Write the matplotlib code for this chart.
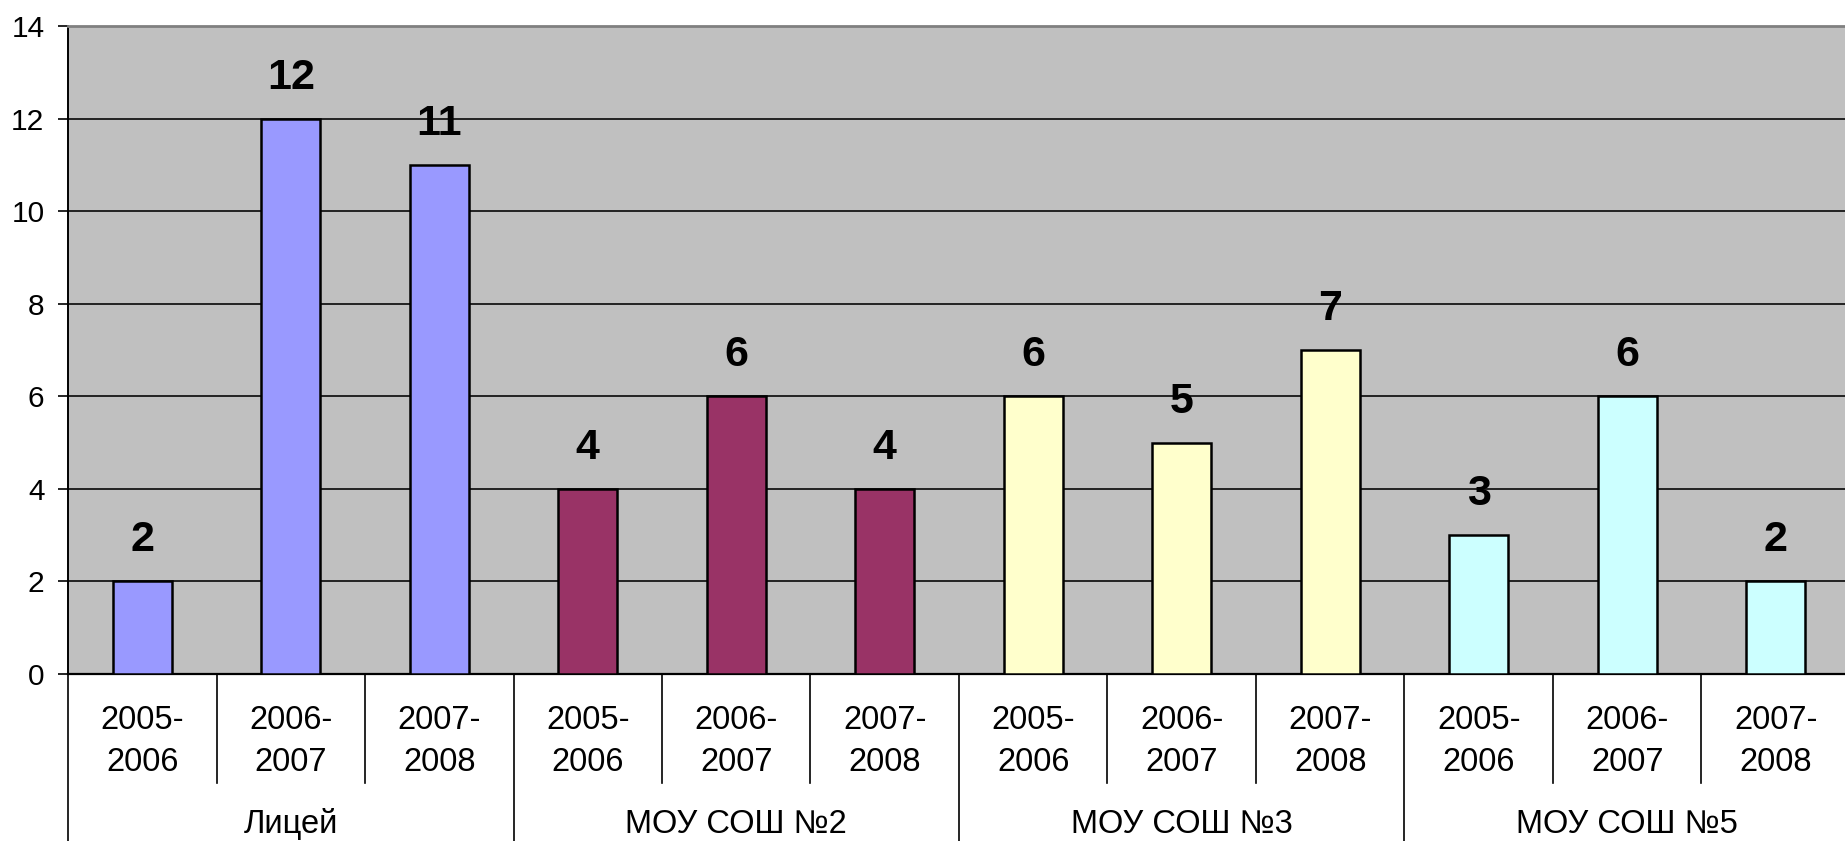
import matplotlib
matplotlib.use("Agg")
import matplotlib.pyplot as plt

# данные с диаграммы
groups = ["Лицей", "МОУ СОШ №2", "МОУ СОШ №3", "МОУ СОШ №5"]
years = ["2005-\n2006", "2006-\n2007", "2007-\n2008"]
values = [
    [2, 12, 11],
    [4, 6, 4],
    [6, 5, 7],
    [3, 6, 2],
]
colors = ["#9999FF", "#993366", "#FFFFCC", "#CCFFFF"]
yticks = [0, 2, 4, 6, 8, 10, 12, 14]

plt.rcParams["font.family"] = ["Liberation Sans", "DejaVu Sans"]

W, H = 1845, 841
fig = plt.figure(figsize=(W / 100, H / 100), dpi=100)
left, right, top, bottom = 68, 1850, 26, 674
ax = fig.add_axes([left / W, 1 - bottom / H, (right - left) / W, (bottom - top) / H])
ax.set_facecolor("#C0C0C0")

n_years = len(years)
for gi, (grp, vals) in enumerate(zip(groups, values)):
    xs = [gi * n_years + i for i in range(n_years)]
    ax.bar(xs, vals, width=0.4, color=colors[gi], edgecolor="black",
           linewidth=1.8, zorder=3)
    for x, v in zip(xs, vals):
        ax.annotate(str(v), (x, v), xytext=(0, 29.5), textcoords="offset points",
                    ha="center", va="center", fontsize=31, fontweight="bold")
        ax.text(x, -0.104, years[x % n_years], transform=ax.get_xaxis_transform(),
                ha="center", va="center", fontsize=23.5, linespacing=1.45)
    ax.text(gi * n_years + 1, -0.232, grp, transform=ax.get_xaxis_transform(),
            ha="center", va="center", fontsize=23.5)

n_cat = len(groups) * n_years
ax.set_xlim(-0.5, n_cat - 0.5)
ax.set_ylim(0, 14)
ax.set_yticks(yticks)
ax.tick_params(axis="y", labelsize=21.5, length=7, width=1.2, pad=10)
ax.set_xticks([])
ax.yaxis.grid(True, color="#222222", linewidth=1.4, zorder=1)
ax.set_axisbelow(True)

ax.spines["right"].set_visible(False)
ax.spines["top"].set_color("#808080")
ax.spines["top"].set_linewidth(2)
ax.spines["left"].set_linewidth(1.4)
ax.spines["bottom"].set_linewidth(1.6)

# разделители подписей под осью
trans = ax.get_xaxis_transform()
full_depth = -(H - bottom) / (bottom - top)
cat_depth = -(783 - bottom) / (bottom - top)
for b in range(n_cat + 1):
    depth = full_depth if b % n_years == 0 else cat_depth
    ax.plot([b - 0.5, b - 0.5], [0, depth], transform=trans, color="black",
            linewidth=1.2, clip_on=False)

fig.savefig("out.png", dpi=100)
